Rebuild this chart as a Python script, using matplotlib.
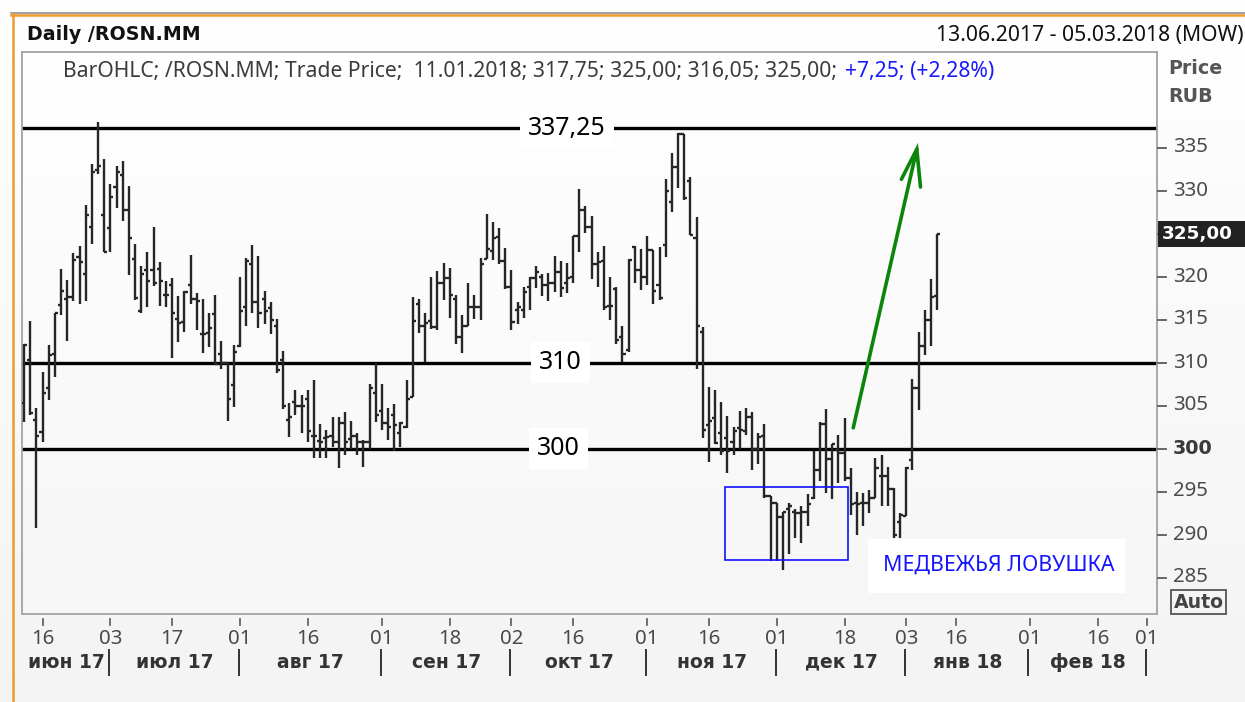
import numpy as np
import pandas as pd
import matplotlib
matplotlib.use("Agg")
import matplotlib.pyplot as plt
from matplotlib.patches import Rectangle
from matplotlib.lines import Line2D
import matplotlib.transforms as mtransforms

plt.rcParams['font.family'] = ['Noto Sans', 'DejaVu Sans']
BOLD = ['DejaVu Sans']

# ---------------- data ----------------
start_date = "2017-06-13"
end_date = "2018-03-05"
holidays = ["2017-11-06", "2018-01-01", "2018-01-02", "2018-01-08", "2018-02-23"]

open_ = [305.3, 310.3, 303.3, 301.9, 307.0, 311.0, 316.7, 317.4, 317.6, 322.3,
         320.3, 325.8, 332.4, 327.2, 325.6, 330.4, 331.8, 327.7, 322.0, 316.0,
         320.7, 320.7, 320.9, 317.9, 319.0, 315.1, 314.7, 319.0, 317.4, 313.3,
         313.4, 315.6, 311.0, 309.9, 307.4, 311.9, 316.4, 321.4, 317.0, 317.4,
         316.3, 314.2, 310.3, 303.3, 305.4, 304.9, 305.7, 301.5, 300.9, 301.2,
         301.5, 300.8, 303.0, 301.1, 301.5, 300.8, 300.8, 306.5, 304.4, 303.0,
         303.9, 301.8, 302.5, 306.0, 316.8, 314.3, 314.8, 314.1, 319.2, 319.8,
         317.4, 313.0, 314.3, 316.4, 316.4, 322.0, 323.0, 324.6, 321.8, 318.8,
         316.1, 316.1, 318.8, 319.8, 319.9, 319.0, 319.2, 320.5, 319.3, 320.0,
         324.7, 327.7, 325.8, 321.5, 321.8, 316.6, 318.6, 313.0, 311.4, 323.4,
         320.8, 320.0, 323.1, 319.0, 323.7, 328.7, 332.7, 336.6, 331.1, 324.5,
         313.6, 302.7, 303.6, 301.8, 301.2, 300.8, 302.4, 302.0, 303.7, 300.0,
         301.4, 294.5, 293.7, 292.0, 293.0, 292.6, 292.5, 292.6, 294.2, 297.5,
         302.9, 298.8, 299.8, 299.5, 296.6, 293.7, 293.7, 293.7, 294.2, 296.8,
         296.8, 295.3, 291.4, 292.1, 298.7, 307.0, 311.9, 314.9, 317.75]
high = [312.2, 314.8, 304.7, 308.9, 312.0, 315.8, 320.9, 319.6, 322.7, 323.6,
        328.3, 333.1, 338.0, 333.7, 330.7, 332.8, 333.4, 330.5, 323.8, 321.2,
        322.9, 325.7, 321.7, 319.5, 319.8, 317.7, 318.3, 322.5, 318.1, 317.4,
        315.7, 317.9, 312.5, 309.9, 312.0, 320.0, 322.1, 323.7, 322.4, 318.3,
        317.0, 315.1, 311.3, 305.3, 306.8, 306.2, 306.8, 308.0, 302.8, 302.1,
        303.7, 303.7, 304.3, 303.2, 301.8, 301.0, 307.5, 309.9, 307.5, 304.7,
        305.2, 303.1, 308.0, 317.6, 317.4, 315.7, 319.9, 320.6, 321.6, 321.0,
        317.9, 315.5, 319.3, 317.9, 322.1, 327.3, 326.3, 325.6, 323.3, 320.8,
        317.0, 318.8, 319.9, 321.2, 320.3, 320.4, 322.4, 321.8, 321.6, 324.7,
        330.2, 328.2, 327.0, 322.8, 323.5, 319.9, 318.8, 314.3, 322.0, 323.6,
        323.2, 324.7, 323.1, 323.4, 331.3, 334.4, 336.7, 336.6, 331.6, 326.9,
        314.1, 307.2, 306.8, 305.4, 303.8, 302.5, 304.4, 304.7, 304.2, 301.8,
        302.9, 294.5, 293.7, 292.6, 293.7, 293.0, 293.3, 294.7, 299.7, 303.1,
        304.6, 300.5, 301.6, 303.6, 297.7, 294.9, 294.8, 295.2, 298.9, 299.3,
        297.9, 295.4, 292.5, 297.9, 308.1, 313.6, 316.1, 319.7, 325.00]
low = [303.1, 303.9, 290.8, 300.7, 305.6, 308.3, 315.5, 312.5, 317.1, 316.8,
       317.1, 323.8, 331.9, 322.9, 322.8, 328.0, 326.4, 320.2, 317.3, 315.7,
       316.4, 318.9, 316.6, 316.4, 310.5, 312.4, 313.5, 316.8, 313.8, 311.1,
       311.8, 309.8, 309.3, 303.2, 304.8, 311.8, 314.2, 315.8, 314.0, 314.5,
       313.3, 308.8, 304.6, 301.3, 303.9, 301.8, 300.8, 298.9, 298.9, 298.9,
       300.2, 297.7, 299.3, 300.0, 299.3, 297.9, 300.0, 303.1, 302.2, 301.0,
       299.7, 300.2, 302.4, 306.0, 313.4, 310.1, 313.9, 313.8, 317.3, 315.2,
       312.2, 311.1, 314.3, 315.1, 315.0, 322.0, 321.9, 321.4, 318.6, 313.8,
       314.5, 315.2, 316.1, 318.7, 317.7, 317.1, 318.2, 317.6, 318.1, 319.3,
       322.8, 325.1, 319.7, 318.8, 316.1, 315.0, 312.2, 310.1, 311.2, 319.2,
       318.4, 319.0, 316.8, 317.3, 322.3, 327.5, 330.3, 328.9, 324.8, 309.3,
       301.2, 298.4, 300.5, 299.3, 297.1, 299.3, 300.0, 301.6, 297.5, 298.2,
       294.3, 286.9, 286.9, 285.9, 287.7, 289.6, 289.0, 291.0, 294.1, 296.2,
       294.8, 294.1, 296.0, 296.2, 292.3, 290.0, 291.0, 292.5, 294.2, 293.3,
       293.3, 289.6, 289.6, 292.1, 297.5, 304.5, 310.9, 311.9, 316.05]
close = [312.0, 304.1, 301.4, 306.5, 310.9, 315.7, 318.3, 317.6, 321.9, 321.7,
         327.1, 332.2, 332.9, 322.9, 329.3, 332.2, 327.7, 324.5, 317.5, 320.3,
         319.5, 319.2, 319.5, 317.9, 315.8, 314.6, 318.2, 317.4, 317.2, 313.3,
         314.0, 309.8, 310.0, 305.8, 311.2, 316.0, 321.8, 317.0, 315.7, 316.0,
         314.9, 309.1, 304.9, 303.7, 305.0, 304.9, 302.0, 301.4, 300.8, 301.3,
         300.8, 303.0, 300.8, 301.5, 300.8, 300.8, 307.0, 303.9, 303.0, 302.5,
         302.7, 303.0, 305.7, 314.8, 314.3, 314.6, 314.1, 319.2, 319.8, 317.8,
         313.0, 314.3, 316.4, 316.4, 321.5, 323.2, 324.5, 321.8, 318.8, 314.7,
         316.4, 318.2, 319.8, 320.5, 319.0, 319.2, 320.5, 318.7, 319.8, 324.7,
         327.7, 325.8, 321.5, 321.7, 316.4, 316.6, 312.6, 311.0, 321.9, 320.8,
         319.9, 323.1, 318.3, 317.5, 329.9, 332.7, 336.6, 329.1, 324.8, 314.2,
         302.2, 303.2, 300.6, 299.7, 299.7, 302.0, 302.2, 303.7, 300.0, 301.3,
         294.5, 293.7, 292.0, 292.6, 293.3, 292.5, 292.6, 293.6, 297.5, 302.9,
         298.8, 300.5, 299.5, 296.6, 293.5, 293.5, 293.7, 294.2, 297.7, 296.8,
         295.3, 290.0, 292.3, 297.7, 307.0, 311.9, 314.9, 317.6, 325.00]

levels = [337.25, 310, 300]
level_labels = ["337,25", "310", "300"]

tick_dates = ["2017-06-16", "2017-07-03", "2017-07-17", "2017-08-01", "2017-08-16",
              "2017-09-01", "2017-09-18", "2017-10-02", "2017-10-16", "2017-11-01",
              "2017-11-16", "2017-12-01", "2017-12-18", "2018-01-03", "2018-01-16",
              "2018-02-01", "2018-02-16", "2018-03-01"]
tick_labels = ["16", "03", "17", "01", "16", "01", "18", "02", "16", "01",
               "16", "01", "18", "03", "16", "01", "16", "01"]
month_names = ["июн 17", "июл 17", "авг 17", "сен 17", "окт 17", "ноя 17",
               "дек 17", "янв 18", "фев 18"]
y_ticks = [285, 290, 295, 300, 305, 310, 315, 320, 325, 330, 335]
y_tick_labels = ["285", "290", "295", "300", "305", "310", "315", "320", "325", "330", "335"]

header_left = "Daily /ROSN.MM"
header_right = "13.06.2017 - 05.03.2018 (MOW)"
legend_main = "BarOHLC; /ROSN.MM; Trade Price;  11.01.2018; 317,75; 325,00; 316,05; 325,00;"
legend_change = "+7,25; (+2,28%)"
last_label = "325,00"
trap_label = "МЕДВЕЖЬЯ ЛОВУШКА"
trap_box = dict(x0="2017-11-20", x1="2017-12-18", p_low=287.0, p_high=295.5)

# ---------------- calendar ----------------
days = pd.bdate_range(start_date, end_date)
days = days[~days.isin(pd.to_datetime(holidays))]
n = len(open_)
xi = np.arange(n)

def idx(d):
    return days.get_loc(pd.Timestamp(d))

# ---------------- layout helpers ----------------
W, H = 1245, 702
fig = plt.figure(figsize=(W / 100, H / 100), dpi=100)
r = fig.canvas.get_renderer()

def fx(x):
    return x / W

def fy(y):
    return 1 - y / H

def size_for(s, w, **kw):
    t = fig.text(0, 0, s, fontsize=20, **kw)
    bb = t.get_window_extent(renderer=r)
    t.remove()
    return 20 * w / bb.width

# background gradient (figure)
bg = fig.add_axes([0, 0, 1, 1], zorder=-10)
g = np.linspace(1.0, 0.955, 256)[:, None]
bg.imshow(np.dstack([g, g, g]), aspect='auto', extent=[0, 1, 0, 1])
bg.axis('off')

# frame lines
fig.add_artist(Line2D([fx(11), 1], [fy(13), fy(13)], color='#8e8e8e', lw=1.2))
fig.add_artist(Line2D([fx(11), 1], [fy(15), fy(15)], color='#f29a2e', lw=1.8))
fig.add_artist(Line2D([fx(12.5), fx(12.5)], [fy(14), 0], color='#f29a2e', lw=1.8))

# ---------------- main axes ----------------
L_px, R_px, T_px, B_px = 22, 1157, 52, 614
ax = fig.add_axes([fx(L_px), fy(B_px), fx(R_px) - fx(L_px), fy(T_px) - fy(B_px)])
px_per_slot = 6.17
x0_px = 24.0
xlim = ((L_px - x0_px) / px_per_slot, (R_px - x0_px) / px_per_slot)
px_per_unit = 8.6
y300 = 448.5
ylim = (300 - (B_px - y300) / px_per_unit, 300 + (y300 - T_px) / px_per_unit)

ga = np.linspace(1.0, 0.965, 256)[:, None]
ax.imshow(np.dstack([ga, ga, ga]), aspect='auto',
          extent=[xlim[0], xlim[1], ylim[0], ylim[1]], zorder=0)
ax.set_xlim(*xlim)
ax.set_ylim(*ylim)
ax.set_xticks([])
ax.set_yticks([])
for sp in ax.spines.values():
    sp.set_color('#a3a3a3')
    sp.set_linewidth(1.3)

# level lines
lvl_size = size_for("337,25", 78)
lvl_x = [88.0, 87.0, 86.6]
for lv, lab, lx in zip(levels, level_labels, lvl_x):
    ax.axhline(lv, color='black', lw=2.4, zorder=2)
    ax.text(lx, lv, lab, ha='center', va='center', fontsize=lvl_size,
            color='black', zorder=3,
            bbox=dict(facecolor='white', edgecolor='none', pad=6))

# OHLC bars
bar_col = '#262626'
tick_w = 0.5
ax.vlines(xi, low, high, color=bar_col, lw=1.7, zorder=4)
ax.hlines(open_, xi - tick_w, xi, color=bar_col, lw=1.7, zorder=4)
ax.hlines(close, xi, xi + tick_w, color=bar_col, lw=1.7, zorder=4)

# bear trap box
bx0 = idx(trap_box["x0"]) + 0.6
bx1 = idx(trap_box["x1"]) + 0.6
ax.add_patch(Rectangle((bx0, trap_box["p_low"]), bx1 - bx0,
                       trap_box["p_high"] - trap_box["p_low"],
                       fill=False, edgecolor='#1010ff', lw=1.2, zorder=5))

# green arrow (annotation, data units)
arrow_start = (134.4, 302.4)
arrow_tip = (144.7, 334.8)
arm1 = (142.2, 331.3)
arm2 = (145.3, 330.4)
gcol = '#0b860b'
ax.plot([arrow_start[0], arrow_tip[0]], [arrow_start[1], arrow_tip[1]],
        color=gcol, lw=2.6, solid_capstyle='round', zorder=6)
ax.plot([arm1[0], arrow_tip[0], arm2[0]], [arm1[1], arrow_tip[1], arm2[1]],
        color=gcol, lw=2.6, solid_capstyle='round', solid_joinstyle='miter', zorder=6)

# ---------------- right axis ----------------
tick_size = size_for("335", 35)
bold_size = size_for("300", 40, fontweight='bold', family=BOLD)
trans_y = mtransforms.blended_transform_factory(fig.transFigure, ax.transData)
for v, lab in zip(y_ticks, y_tick_labels):
    fig.add_artist(Line2D([fx(1158), fx(1166)], [v, v], transform=trans_y,
                          color='#5a5a5a', lw=1.3))
    if v == 300:
        fig.text(fx(1173), v, lab, transform=trans_y, ha='left', va='center',
                 fontsize=bold_size, fontweight='bold', family=BOLD, color='#3a3a3a')
    elif v != 325:
        fig.text(fx(1173), v, lab, transform=trans_y, ha='left', va='center',
                 fontsize=tick_size, color='#4a4a4a')

# last price box
fig.add_artist(Rectangle((fx(1158), fy(247)), fx(1245) - fx(1158), fy(221) - fy(247),
                         transform=fig.transFigure, facecolor='#222222',
                         edgecolor='none', zorder=10))
lp_size = size_for(last_label, 71, fontweight='bold', family=BOLD)
fig.text(fx(1197), fy(234.5), last_label, ha='center', va='center',
         fontsize=lp_size, fontweight='bold', family=BOLD, color='white', zorder=11)

# Price / RUB
pr_size = size_for("Price", 54, fontweight='bold', family=BOLD)
fig.text(fx(1168), fy(68), "Price", ha='left', va='center', fontsize=pr_size,
         fontweight='bold', family=BOLD, color='#555555')
fig.text(fx(1168), fy(97), "RUB", ha='left', va='center', fontsize=pr_size,
         fontweight='bold', family=BOLD, color='#555555')

# Auto box
fig.add_artist(Rectangle((fx(1171), fy(614)), fx(1226) - fx(1171), fy(590) - fy(614),
                         transform=fig.transFigure, facecolor='none',
                         edgecolor='#555555', lw=1.3, zorder=10))
au_size = size_for("Auto", 50, fontweight='bold', family=BOLD)
fig.text(fx(1198.5), fy(603), "Auto", ha='center', va='center', fontsize=au_size,
         fontweight='bold', family=BOLD, color='#444444', zorder=11)

# ---------------- header ----------------
hl_size = size_for(header_left, 173, fontweight='bold', family=BOLD)
fig.text(fx(27), fy(35), header_left, ha='left', va='center', fontsize=hl_size,
         fontweight='bold', family=BOLD, color='#111111')
hr_size = size_for(header_right, 308)
fig.text(fx(1243), fy(35), header_right, ha='right', va='center', fontsize=hr_size,
         color='#111111')
lg_size = size_for(legend_main, 775)
fig.text(fx(63), fy(72), legend_main, ha='left', va='center', fontsize=lg_size,
         color='#3c3c3c')
fig.text(fx(845), fy(72), legend_change, ha='left', va='center', fontsize=lg_size,
         color='#1a1aff')

# bear trap label
fig.add_artist(Rectangle((fx(868), fy(593)), fx(1125) - fx(868), fy(539) - fy(593),
                         transform=fig.transFigure, facecolor='white',
                         edgecolor='none', zorder=8))
tr_size = size_for(trap_label, 232)
fig.text(fx(999), fy(565), trap_label, ha='center', va='center', fontsize=tr_size,
         color='#1414ff', zorder=9)

# ---------------- bottom axis ----------------
trans_x = mtransforms.blended_transform_factory(ax.transData, fig.transFigure)
for d, lab in zip(tick_dates, tick_labels):
    i = idx(d)
    fig.add_artist(Line2D([i, i], [fy(619), fy(625)], transform=trans_x,
                          color='#666666', lw=1.3))
    fig.text(i, fy(639), lab, transform=trans_x, ha='center', va='center',
             fontsize=tick_size, color='#4a4a4a')

# month separators and labels
month_starts = []
seen = set()
for k, d in enumerate(days):
    key = (d.year, d.month)
    if key not in seen:
        seen.add(key)
        month_starts.append(k)
bounds = [xlim[0]] + month_starts[1:]
mn_size = size_for("июн 17", 77, fontweight='bold', family=BOLD)
for j, name in enumerate(month_names):
    a, b = bounds[j], bounds[j + 1]
    fig.text((a + b) / 2, fy(662), name, transform=trans_x, ha='center', va='center',
             fontsize=mn_size, fontweight='bold', family=BOLD, color='#333333')
for s in month_starts[1:]:
    fig.add_artist(Line2D([s - 0.2, s - 0.2], [fy(650), fy(675)], transform=trans_x,
                          color='#333333', lw=1.4))

fig.savefig("out.png", dpi=100)
